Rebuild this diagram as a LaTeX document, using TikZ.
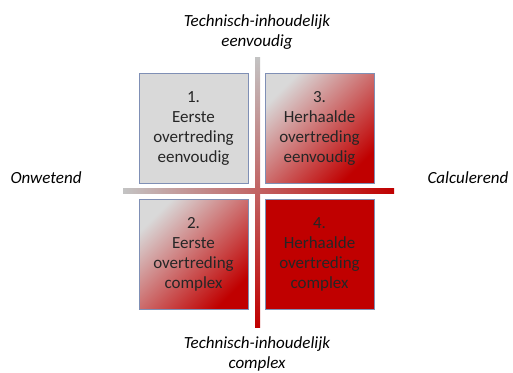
\documentclass[tikz,border=0pt]{standalone}
\usepackage{fontspec}
\setmainfont{Carlito}
\usetikzlibrary{positioning}
\definecolor{vakgrijs}{HTML}{D9D9D9}
\definecolor{vakrood}{HTML}{C00000}
\definecolor{vakrand}{HTML}{7F8FB5}
\begin{document}
\begin{tikzpicture}[x=1pt,y=-1pt, node distance=126pt,
    kwadrant/.style={draw=vakrand, line width=0.8pt, minimum width=109pt, minimum height=110pt,
      align=center, font=\fontsize{17}{20}\selectfont, text=black!85},
    verloop/.style={kwadrant, left color=vakgrijs, middle color=vakrood!40!vakgrijs,
      right color=vakrood, shading angle=45},
    as/.style={align=center, font=\fontsize{17}{20}\selectfont\itshape}]
      \useasboundingbox (0,0) rectangle (513,372);
      % assen
      \coordinate (hl) at (123,188); \coordinate (hr) at (394,193);
      \coordinate (vt) at (255,57); \coordinate (vb) at (260,327);
      \shade [left color=vakgrijs!90!black, right color=vakrood] (hl) rectangle (hr);
      \shade [top color=vakgrijs!90!black, bottom color=vakrood] (vt) rectangle (vb);
      \node [kwadrant, fill=vakgrijs] (k1) at (193.5,128) {1.\\Eerste\\overtreding\\eenvoudig};
      \node [verloop] (k3) [right of=k1] {3.\\Herhaalde\\overtreding\\eenvoudig};
      \node [verloop] (k2) [below of=k1] {2.\\Eerste\\overtreding\\complex};
      \node [kwadrant, fill=vakrood] (k4) [right of=k2] {4.\\Herhaalde\\overtreding\\complex};
      % labels
      \node [as] (boven) at (257,32) {Technisch-inhoudelijk\\eenvoudig};
      \node [as] (onder) at (257,354) {Technisch-inhoudelijk\\complex};
      \node [as] (links) at (46,178) {Onwetend};
      \node [as] (rechts) at (468,178) {Calculerend};
\end{tikzpicture}
\end{document}
